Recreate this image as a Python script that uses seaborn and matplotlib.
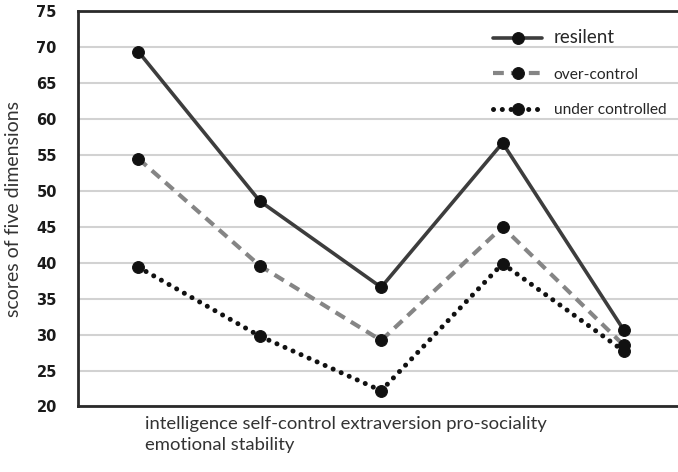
import pandas as pd
import numpy as np
import matplotlib
matplotlib.use('Agg')
import matplotlib.pyplot as plt
import seaborn as sns

categories = ['intelligence', 'self-control', 'extraversion', 'pro-sociality', 'emotional stability']
resilent = [69.4, 48.6, 36.6, 56.7, 30.6]
over_control = [54.5, 39.6, 29.2, 45.0, 28.5]
under_controlled = [39.4, 29.8, 22.2, 39.9, 27.7]
series_names = ['resilent', 'over-control', 'under controlled']
y_ticks = list(range(20, 80, 5))

df = pd.DataFrame({
    'dimension': categories * 3,
    'score': resilent + over_control + under_controlled,
    'group': [g for g in series_names for _ in categories],
})

sns.set_style('white')
plt.rcParams['font.family'] = ['Lato', 'DejaVu Sans']

fig = plt.figure(figsize=(6.78, 4.72), dpi=100)
ax = fig.add_axes([0.1146, 0.1388, 0.8854, 0.8369])

styles = {
    'resilent':         dict(color='#3d3d3d', lw=2.6, ls='-'),
    'over-control':     dict(color='#858585', lw=3.0, ls=(0, (2.6, 1.7))),
    'under controlled': dict(color='#111111', lw=3.6, ls=(0, (0.01, 1.75))),
}
for name in series_names:
    st = styles[name]
    sns.lineplot(data=df[df['group'] == name], x='dimension', y='score', sort=False,
                 color=st['color'], linewidth=st['lw'], linestyle=st['ls'],
                 marker='o', markersize=8.5, markerfacecolor='#111111',
                 markeredgecolor='#111111', label=name, ax=ax,
                 dash_capstyle='round' if name == 'under controlled' else 'butt')

ax.set_ylim(20, 75)
ax.set_xlim(-0.5, 4.445)
ax.set_yticks(y_ticks)
ax.set_yticklabels([str(t) for t in y_ticks], fontsize=10.5, fontweight='bold',
                   color='#1a1a1a', family='DejaVu Sans')
ax.tick_params(axis='y', length=0, pad=15)
ax.set_xticks([])
ax.set_xlabel('')
ax.set_ylabel('scores of five dimensions', fontsize=14, color='#333333', labelpad=10)
ax.yaxis.grid(True, color='#d2d2d2', lw=1.5)
ax.set_axisbelow(True)
for s in ['left', 'bottom', 'top']:
    ax.spines[s].set_color('#2a2a2a')
    ax.spines[s].set_linewidth(2.0)
ax.spines['right'].set_visible(False)

leg = ax.legend(loc='upper left', bbox_to_anchor=(0.668, 0.99), frameon=False,
                fontsize=11.2, handlelength=3.2, numpoints=1, labelspacing=1.38,
                handletextpad=0.72)
leg.get_texts()[0].set_fontsize(13.5)

xlabel_text = ' '.join(categories[:4]) + '\n' + categories[4]
fig.text(145 / 678, 1 - 416 / 472, xlabel_text, ha='left', va='top', fontsize=13.3,
         color='#333333', linespacing=1.4)

plt.savefig('out.png', dpi=100)
plt.close()
